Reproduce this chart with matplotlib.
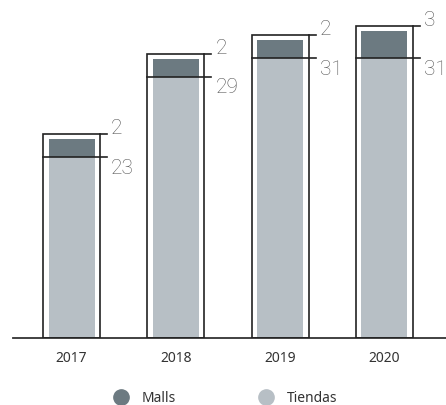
import matplotlib
matplotlib.use("Agg")
import matplotlib.pyplot as plt
from matplotlib.patches import Rectangle
from matplotlib.lines import Line2D

# Data
years = ["2017", "2018", "2019", "2020"]
tiendas = [23, 29, 31, 31]            # labelled values
tiendas_drawn = [20.1, 29, 31.1, 31.1]  # bar heights as drawn in the picture
malls = [2, 2, 2, 3]
legend_labels = ["Malls", "Tiendas"]

c_malls = "#6c7a81"
c_tiendas = "#b7bfc5"
c_line = "#222222"
c_num = "#555555"

W, H = 446, 406
fig = plt.figure(figsize=(W / 100, H / 100), dpi=100)
base_px = 339
ax = fig.add_axes([13 / W, (H - base_px) / H, (W - 13) / W, base_px / H])

step = 104.33
ax.set_xlim(-(71.5 - 13) / step, (W - 71.5) / step)
ax.set_ylim(0, base_px / 9.0)

inner_w = 46 / step
outer_w = 57 / step
ext = 7 / step
pad = 0.6

for i, (t, td, m) in enumerate(zip(tiendas, tiendas_drawn, malls)):
    ax.bar(i, td, width=inner_w, color=c_tiendas, zorder=1)
    ax.bar(i, m, bottom=td, width=inner_w, color=c_malls, zorder=1)
    top = td + m + pad
    ax.add_patch(Rectangle((i - outer_w / 2, 0), outer_w, top, fill=False,
                           edgecolor=c_line, linewidth=1.2, zorder=3))
    ax.plot([i - outer_w / 2, i + outer_w / 2 + ext], [td, td], color=c_line, lw=1.2, zorder=3)
    ax.plot([i + outer_w / 2, i + outer_w / 2 + ext], [top, top], color=c_line, lw=1.2, zorder=3)
    xt = i + outer_w / 2 + 11 / step
    ax.text(xt, top + 0.05, str(m), ha="left", va="baseline", fontsize=15,
            family="Roboto", fontweight="light", color=c_num)
    ax.text(xt, td - 0.05, str(t), ha="left", va="top", fontsize=15,
            family="Roboto", fontweight="light", color=c_num)

for s in ["top", "right", "left"]:
    ax.spines[s].set_visible(False)
ax.spines["bottom"].set_color("#333333")
ax.spines["bottom"].set_linewidth(1.3)
ax.set_yticks([])
ax.set_xticks(range(len(years)))
ax.set_xticklabels(years, fontsize=10, family="Noto Sans", color="#333333")
ax.tick_params(axis="x", length=0, pad=9)

handles = [Line2D([], [], marker="o", linestyle="", markersize=11, color=c_malls),
           Line2D([], [], marker="o", linestyle="", markersize=11, color=c_tiendas)]
leg = fig.legend(handles, legend_labels, loc="center", bbox_to_anchor=(222 / W, 1 - 399 / H),
                 ncol=2, frameon=False, handletextpad=0.5, columnspacing=5.5,
                 prop={"family": "Noto Sans", "size": 10})
for t in leg.get_texts():
    t.set_color("#333333")

fig.savefig("out.png", dpi=100)
